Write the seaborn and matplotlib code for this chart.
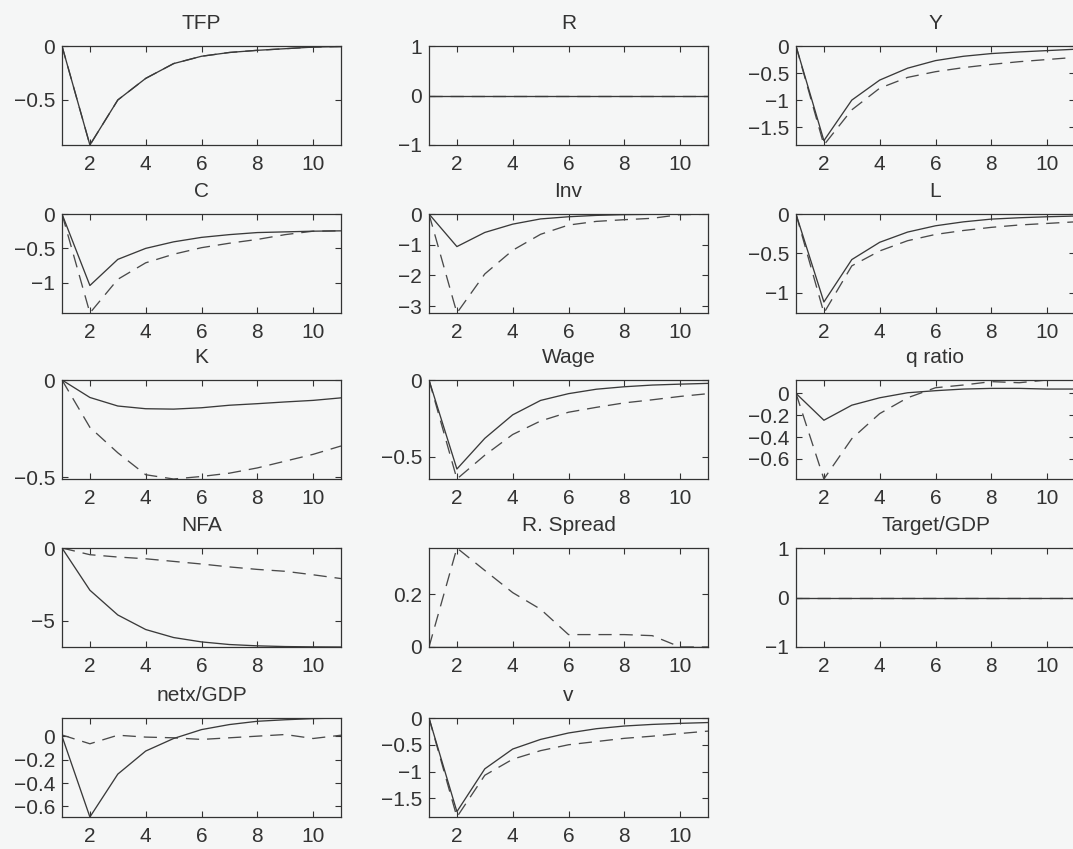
import matplotlib
matplotlib.use("Agg")
import matplotlib.pyplot as plt
import seaborn as sns
from matplotlib.ticker import FixedLocator, FuncFormatter

# Impulse responses over 11 periods: solid = baseline, dashed = alternative
periods = list(range(1, 12))

titles = ["TFP", "R", "Y", "C", "Inv", "L", "K", "Wage", "q ratio",
          "NFA", "R. Spread", "Target/GDP", "netx/GDP", "v"]

tfp_solid = [0, -0.917, -0.50, -0.30, -0.163, -0.095, -0.06, -0.04, -0.025, -0.01, -0.005]
tfp_dashed = [0, -0.917, -0.50, -0.30, -0.163, -0.095, -0.06, -0.04, -0.025, -0.01, -0.005]
r_solid = [0] * 11
r_dashed = [0] * 11
y_solid = [0, -1.75, -1.0, -0.63, -0.41, -0.27, -0.19, -0.14, -0.11, -0.085, -0.06]
y_dashed = [0, -1.83, -1.18, -0.78, -0.58, -0.475, -0.40, -0.34, -0.29, -0.25, -0.21]
c_solid = [0, -1.04, -0.66, -0.50, -0.405, -0.34, -0.30, -0.27, -0.26, -0.25, -0.245]
c_dashed = [0, -1.44, -0.95, -0.71, -0.585, -0.49, -0.425, -0.37, -0.30, -0.25, -0.245]
inv_solid = [0, -1.06, -0.60, -0.33, -0.16, -0.09, -0.045, -0.02, -0.01, -0.005, 0]
inv_dashed = [0, -3.22, -1.95, -1.18, -0.66, -0.36, -0.24, -0.185, -0.14, -0.02, -0.01]
l_solid = [0, -1.12, -0.58, -0.36, -0.23, -0.15, -0.10, -0.065, -0.048, -0.035, -0.026]
l_dashed = [0, -1.26, -0.66, -0.47, -0.34, -0.26, -0.21, -0.17, -0.14, -0.12, -0.10]
k_solid = [0, -0.09, -0.134, -0.148, -0.15, -0.143, -0.13, -0.122, -0.113, -0.105, -0.092]
k_dashed = [0, -0.244, -0.375, -0.488, -0.51, -0.497, -0.48, -0.453, -0.418, -0.383, -0.34]
wage_solid = [0, -0.58, -0.38, -0.227, -0.133, -0.089, -0.06, -0.044, -0.033, -0.027, -0.022]
wage_dashed = [0, -0.645, -0.49, -0.355, -0.267, -0.21, -0.178, -0.149, -0.129, -0.107, -0.089]
q_solid = [0, -0.246, -0.108, -0.04, 0.006, 0.025, 0.04, 0.046, 0.046, 0.04, 0.04]
q_dashed = [0, -0.785, -0.415, -0.185, -0.04, 0.052, 0.077, 0.108, 0.098, 0.123, 0.123]
nfa_solid = [0, -2.9, -4.6, -5.6, -6.15, -6.45, -6.63, -6.72, -6.77, -6.79, -6.8]
nfa_dashed = [0, -0.46, -0.62, -0.74, -0.92, -1.1, -1.3, -1.47, -1.6, -1.84, -2.1]
spread_solid = [0] * 11
spread_dashed = [0, 0.375, 0.29, 0.206, 0.143, 0.047, 0.047, 0.047, 0.043, 0.0, 0.0]
target_solid = [0] * 11
target_dashed = [0] * 11
netx_solid = [0, -0.69, -0.324, -0.127, -0.02, 0.056, 0.099, 0.127, 0.14, 0.15, 0.155]
netx_dashed = [0.01, -0.065, 0.008, -0.008, -0.014, -0.028, -0.014, 0, 0.014, -0.02, 0.008]
v_solid = [0, -1.75, -0.95, -0.58, -0.40, -0.28, -0.20, -0.15, -0.12, -0.10, -0.085]
v_dashed = [0, -1.85, -1.07, -0.77, -0.61, -0.50, -0.44, -0.38, -0.34, -0.29, -0.245]

x_ticks = [2, 4, 6, 8, 10]
y_ticks = [
    [-0.5, 0], [-1, 0, 1], [-1.5, -1, -0.5, 0],
    [-1, -0.5, 0], [-3, -2, -1, 0], [-1, -0.5, 0],
    [-0.5, 0], [-0.5, 0], [-0.6, -0.4, -0.2, 0],
    [-5, 0], [0, 0.2], [-1, 0, 1],
    [-0.6, -0.4, -0.2, 0], [-1.5, -1, -0.5, 0],
]

solid_series = [tfp_solid, r_solid, y_solid, c_solid, inv_solid, l_solid,
                k_solid, wage_solid, q_solid, nfa_solid, spread_solid,
                target_solid, netx_solid, v_solid]
dashed_series = [tfp_dashed, r_dashed, y_dashed, c_dashed, inv_dashed, l_dashed,
                 k_dashed, wage_dashed, q_dashed, nfa_dashed, spread_dashed,
                 target_dashed, netx_dashed, v_dashed]

sns.set_theme(style="white")
plt.rcParams["font.family"] = ["Liberation Sans", "DejaVu Sans"]

bg = "#f5f6f6"
ink = "#333333"
fig = plt.figure(figsize=(10.73, 8.49), dpi=100, facecolor=bg)

W, H = 1073.0, 849.0
col_left = [62, 429, 796]
row_bottom = [145, 313, 479, 647, 817]
ax_w, ax_h = 279, 99


def fmt(v, _pos=None):
    s = f"{v:g}"
    return s.replace("-", "\u2212")


for i, title in enumerate(titles):
    r, c = divmod(i, 3)
    ax = fig.add_axes([col_left[c] / W, 1 - row_bottom[r] / H, ax_w / W, ax_h / H])
    ax.set_facecolor(bg)

    sns.lineplot(x=periods, y=dashed_series[i], ax=ax, color="#4a4a4a",
                 linewidth=0.95, linestyle=(0, (10, 6)))
    sns.lineplot(x=periods, y=solid_series[i], ax=ax, color="#3a3a3a",
                 linewidth=0.95)

    lo = min(min(solid_series[i]), min(dashed_series[i]))
    hi = max(max(solid_series[i]), max(dashed_series[i]))
    if hi - lo < 1e-9:
        lo, hi = lo - 1, hi + 1
    ax.set_xlim(1, 11)
    ax.set_ylim(lo, hi)

    ax.xaxis.set_major_locator(FixedLocator(x_ticks))
    ax.yaxis.set_major_locator(FixedLocator(y_ticks[i]))
    ax.xaxis.set_major_formatter(FuncFormatter(fmt))
    ax.yaxis.set_major_formatter(FuncFormatter(fmt))
    ax.tick_params(direction="in", length=4, width=0.8, color=ink,
                   labelsize=15, labelcolor=ink, top=True, right=True,
                   bottom=True, left=True)
    ax.tick_params(axis="x", pad=7)
    ax.tick_params(axis="y", pad=5)
    for sp in ax.spines.values():
        sp.set_visible(True)
        sp.set_color(ink)
        sp.set_linewidth(0.9)
    ax.set_xlabel("")
    ax.set_ylabel("")
    ax.set_title(title, fontsize=15, color=ink, pad=12)

fig.savefig("out.png", dpi=100, facecolor=bg)
